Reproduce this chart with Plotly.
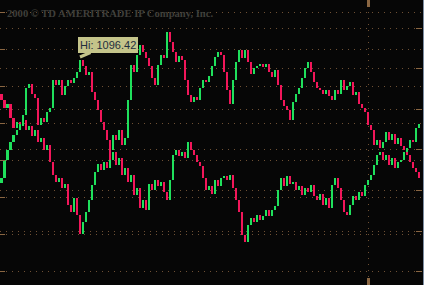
import plotly.graph_objects as go

# ---- data ----
u_open0 = 1026
u_close = [1020, 1012, 1016, 1002, 992, 998, 994, 1000, 990, 994,
           984, 990, 978, 982, 970, 975, 958, 945, 938, 942,
           932, 936, 915, 908, 922, 905, 886, 898, 908, 920,
           935, 948, 956, 950, 958, 952, 970, 985, 980, 990,
           975, 982, 1020, 1055, 1048, 1065, 1075, 1068, 1062, 1054,
           1042, 1035, 1055, 1065, 1062, 1088, 1078, 1068, 1058, 1064,
           1060, 1040, 1025, 1018, 1023, 1020, 1032, 1040, 1038, 1044,
           1054, 1063, 1068, 1065, 1048, 1030, 1016, 1040, 1058, 1070,
           1062, 1070, 1058, 1046, 1052, 1054, 1056, 1053, 1056, 1048,
           1043, 1050, 1035, 1020, 1014, 1010, 1000, 1018, 1026, 1032,
           1042, 1052, 1058, 1048, 1038, 1032, 1030, 1026, 1030, 1024,
           1020, 1030, 1026, 1040, 1030, 1034, 1038, 1025, 1028, 1016,
           1012, 1008, 995, 990, 975, 980, 972, 978, 988, 980,
           986, 976, 982, 974, 970, 965, 958, 952, 948, 942]

l_open0 = 26.7
l_close = [27.2, 29.0, 30.0, 30.8, 31.5, 32.0, 32.6, 33.5, 36.2, 36.6,
           35.6, 35.2, 32.5, 33.2, 32.8, 33.8, 34.2, 37.0, 36.5, 37.0,
           35.5, 36.4, 37.0, 36.7, 37.2, 37.8, 39.0, 38.4, 37.5, 37.8,
           35.8, 35.0, 34.0, 32.8, 32.0, 31.0, 29.0, 29.8, 28.5, 29.2,
           27.5, 28.2, 26.8, 27.5, 25.5, 26.2, 24.2, 25.0, 24.0, 26.6,
           26.0, 27.0, 26.4, 26.8, 25.8, 25.0, 27.0, 29.5, 30.0, 29.4,
           29.8, 29.2, 30.8, 30.0, 29.5, 28.8, 28.4, 27.2, 26.0, 26.4,
           25.6, 27.0, 26.4, 27.2, 27.4, 27.0, 27.5, 26.2, 25.0, 23.8,
           21.5, 20.8, 22.5, 23.2, 22.8, 23.5, 23.0, 23.4, 24.0, 23.4,
           24.0, 24.4, 26.0, 27.2, 26.4, 27.4, 26.6, 26.8, 26.0, 26.4,
           25.5, 26.2, 25.8, 26.5, 25.4, 25.0, 25.6, 24.5, 25.2, 24.2,
           26.5, 27.2, 26.2, 25.0, 23.8, 23.5, 24.5, 25.4, 25.0, 25.8,
           25.4, 26.5, 27.0, 27.5, 28.5, 29.5, 29.8, 29.0, 29.5, 28.5,
           29.2, 28.2, 28.8, 29.0, 29.8, 30.2, 31.0, 30.8, 32.2, 32.6]

session_break = 122.2          # bar position of the dotted separator
hi_text = "Hi: 1096.42"
title_text = "2000 \u00a9 TD AMERITRADE IP Company, Inc."

UP = "#1fe05c"
DOWN = "#f2165a"
GRID = "#6e5034"
AXIS = "#8a6642"
BG = "#060606"
DOTS = "1px,5px"


def bar_trace(open0, closes, yaxis, minh):
    opens = [open0] + closes[:-1]
    xs = list(range(len(closes)))
    base = [min(o, c) for o, c in zip(opens, closes)]
    h = [max(abs(c - o), minh) for o, c in zip(opens, closes)]
    col = [UP if c >= o else DOWN for o, c in zip(opens, closes)]
    return go.Bar(x=xs, y=h, base=base, width=0.68, marker=dict(color=col, line=dict(width=0)),
                  yaxis=yaxis, showlegend=False, hoverinfo="skip")


fig = go.Figure()
fig.add_trace(bar_trace(u_open0, u_close, "y", 2.5))
fig.add_trace(bar_trace(l_open0, l_close, "y2", 0.25))

n = len(u_close)
common = dict(showticklabels=False, zeroline=False, fixedrange=True)
fig.update_layout(
    width=424, height=285,
    margin=dict(l=0, r=2, t=0, b=0),
    paper_bgcolor=BG, plot_bgcolor=BG,
    barmode="overlay", bargap=0,
    showlegend=False,
    xaxis=dict(range=[-0.5, n + 0.0], tickvals=[session_break], showgrid=True,
               gridcolor=GRID, griddash=DOTS, gridwidth=1,
               ticks="inside", ticklen=7, tickwidth=3, tickcolor=AXIS,
               mirror="ticks", showline=False, **common),
    yaxis=dict(range=[835, 1120], tick0=849, dtick=36.9, showgrid=True,
               gridcolor=GRID, griddash=DOTS, gridwidth=1,
               showline=True, linecolor=AXIS, linewidth=2,
               ticks="inside", ticklen=5, tickcolor=AXIS, tickwidth=1, **common),
    yaxis2=dict(range=[16.5, 45], tick0=21.9, dtick=4.06, overlaying="y", side="right",
                showgrid=True, gridcolor=GRID, griddash=DOTS, gridwidth=1,
                showline=False, ticks="inside", ticklen=6, tickcolor=AXIS, tickwidth=1, **common),
    yaxis3=dict(range=[16.5, 45], tick0=21.9, dtick=4.06, overlaying="y", side="left",
                showgrid=False, showline=False, ticks="inside", ticklen=5,
                tickcolor=AXIS, tickwidth=1, **common),
    yaxis4=dict(range=[835, 1120], tick0=849, dtick=36.9, overlaying="y", side="right",
                showgrid=False, showline=False, ticks="inside", ticklen=6,
                tickcolor=AXIS, tickwidth=1, **common),
)

# title text
fig.add_annotation(xref="paper", yref="paper", x=0.012, y=1 - 13 / 285,
                   xanchor="left", yanchor="middle", showarrow=False,
                   text="<b>" + title_text + "</b>",
                   font=dict(family="Liberation Serif", size=10.6, color="#3f3f3a"))

# Hi label
fig.add_annotation(xref="paper", yref="paper", x=80 / 422, y=1 - 57 / 285,
                   ax=28, ay=-12, showarrow=True, arrowhead=0, arrowwidth=3,
                   arrowcolor="#c4c48a", text=hi_text,
                   bgcolor="#c4c48a", bordercolor="#c4c48a", borderpad=1,
                   font=dict(family="Liberation Sans", size=11, color="#1f2d3d"))

# right window border
fig.add_shape(type="line", xref="paper", yref="paper", x0=1.0036, x1=1.0036, y0=0, y1=1,
              line=dict(color="#7f90a4", width=1))

fig.write_html("out.html")
